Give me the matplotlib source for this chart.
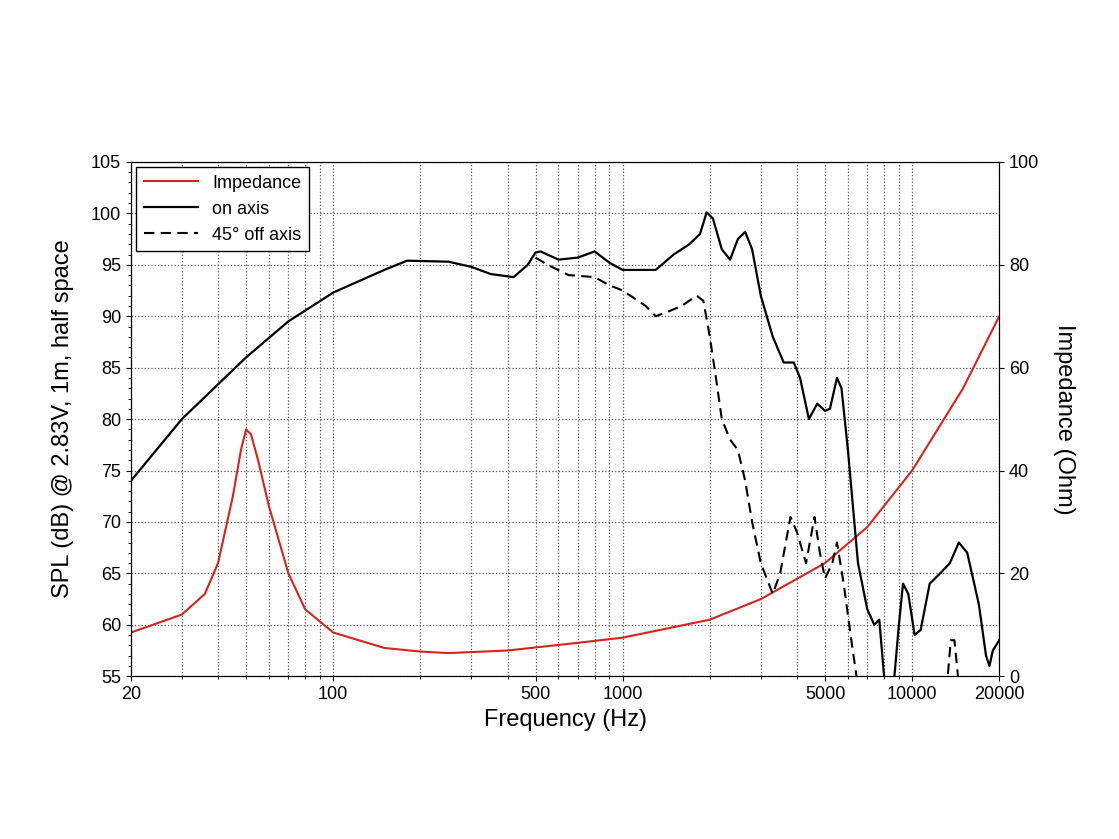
import matplotlib
matplotlib.use("Agg")
import matplotlib.pyplot as plt
from matplotlib.ticker import FixedLocator, NullFormatter, MultipleLocator

plt.rcParams["font.family"] = "Liberation Sans"

on_f = [20,30,50,70,100,150,180,250,300,350,420,470,500,520,600,700,800,900,1000,1100,1300,1500,1700,1850,1950,2050,2200,2350,2500,2650,2800,3000,3300,3600,3900,4100,4400,4700,5000,5200,5500,5700,6000,6500,7000,7400,7700,8000,8500,9000,9300,9700,10200,10700,11500,12500,13500,14500,15500,17000,18000,18500,19000,20000]
on_db = [74,80,86,89.5,92.3,94.5,95.4,95.3,94.8,94.1,93.8,95,96.2,96.3,95.5,95.7,96.3,95.2,94.5,94.5,94.5,96,97,98,100.1,99.5,96.5,95.5,97.5,98.2,96.5,92,88,85.5,85.5,84,80,81.5,80.8,81,84,83,77,66,61.5,60,60.5,55,52,60,64,63,59,59.5,64,65,66,68,67,62,57,56,57.5,58.5]

off_f = [500,550,650,800,900,1000,1200,1300,1450,1600,1800,1900,2000,2100,2200,2350,2500,2650,2800,3000,3300,3500,3800,4000,4300,4600,4800,5000,5300,5500,5800,6200,6500]
off_db = [95.7,95,94,93.8,93,92.5,91,90,90.5,91,92,91.5,88,84,80,78,77,74,70,66,63,65,70.5,69,66,70.5,67,64.5,66,68,64,58,54]
off2_f = [13000,13600,14000,14400,15000]
off2_db = [52,58.5,58.5,55,52]

imp_f = [20,30,36,40,45,48,50,52,55,60,70,80,100,150,200,250,400,700,1000,2000,3000,5000,7000,10000,15000,20000]
imp_ohm = [8.5,12,16,22,35,44,48,47,42,33,20,13,8.5,5.5,4.8,4.5,5,6.5,7.5,11,15,22,29,40,56,70]

fig = plt.figure(figsize=(11.19, 8.39), dpi=100)
ax = fig.add_axes([0.117, 0.194, 0.776, 0.613])
ax.set_xscale("log")
ax.set_xlim(20, 20000)
ax.set_ylim(55, 105)
ax2 = ax.twinx()
ax2.set_ylim(0, 100)

l1, = ax2.plot(imp_f, imp_ohm, color="#d8231b", lw=1.5, label="Impedance")
l2, = ax.plot(on_f, on_db, color="black", lw=1.6, label="on axis")
l3, = ax.plot(off_f, off_db, color="black", lw=1.5, ls=(0, (5, 3)), label="45° off axis")
ax.plot(off2_f, off2_db, color="black", lw=1.5, ls=(0, (5, 3)))

xt = [20, 100, 500, 1000, 5000, 10000, 20000]
ax.xaxis.set_major_locator(FixedLocator(xt))
ax.set_xticklabels([str(v) for v in xt])
minors = [m * 10**e for e in range(1, 5) for m in range(1, 10) if 20 <= m * 10**e <= 20000 and m * 10**e not in xt]
ax.xaxis.set_minor_locator(FixedLocator(minors))
ax.xaxis.set_minor_formatter(NullFormatter())
ax.yaxis.set_major_locator(MultipleLocator(5))
ax.yaxis.set_minor_locator(MultipleLocator(1))
ax2.yaxis.set_major_locator(MultipleLocator(20))
ax.grid(True, which="both", axis="x", ls=":", color="#555555", lw=0.9)
ax.grid(True, which="major", axis="y", ls=":", color="#555555", lw=0.9)
ax.tick_params(labelsize=13)
ax2.tick_params(labelsize=13)
ax.set_xlabel("Frequency (Hz)", fontsize=17)
ax.set_ylabel("SPL (dB) @ 2.83V, 1m, half space", fontsize=17, labelpad=12)
ax2.set_ylabel("Impedance (Ohm)", fontsize=17, rotation=270, labelpad=26)
ax.legend(handles=[l1, l2, l3], loc="upper left", fontsize=13, fancybox=False,
          edgecolor="black", framealpha=1, borderaxespad=0.3, handlelength=3)
ax.set_zorder(ax2.get_zorder() + 1)
ax.patch.set_visible(False)
fig.savefig("out.png", dpi=100)
